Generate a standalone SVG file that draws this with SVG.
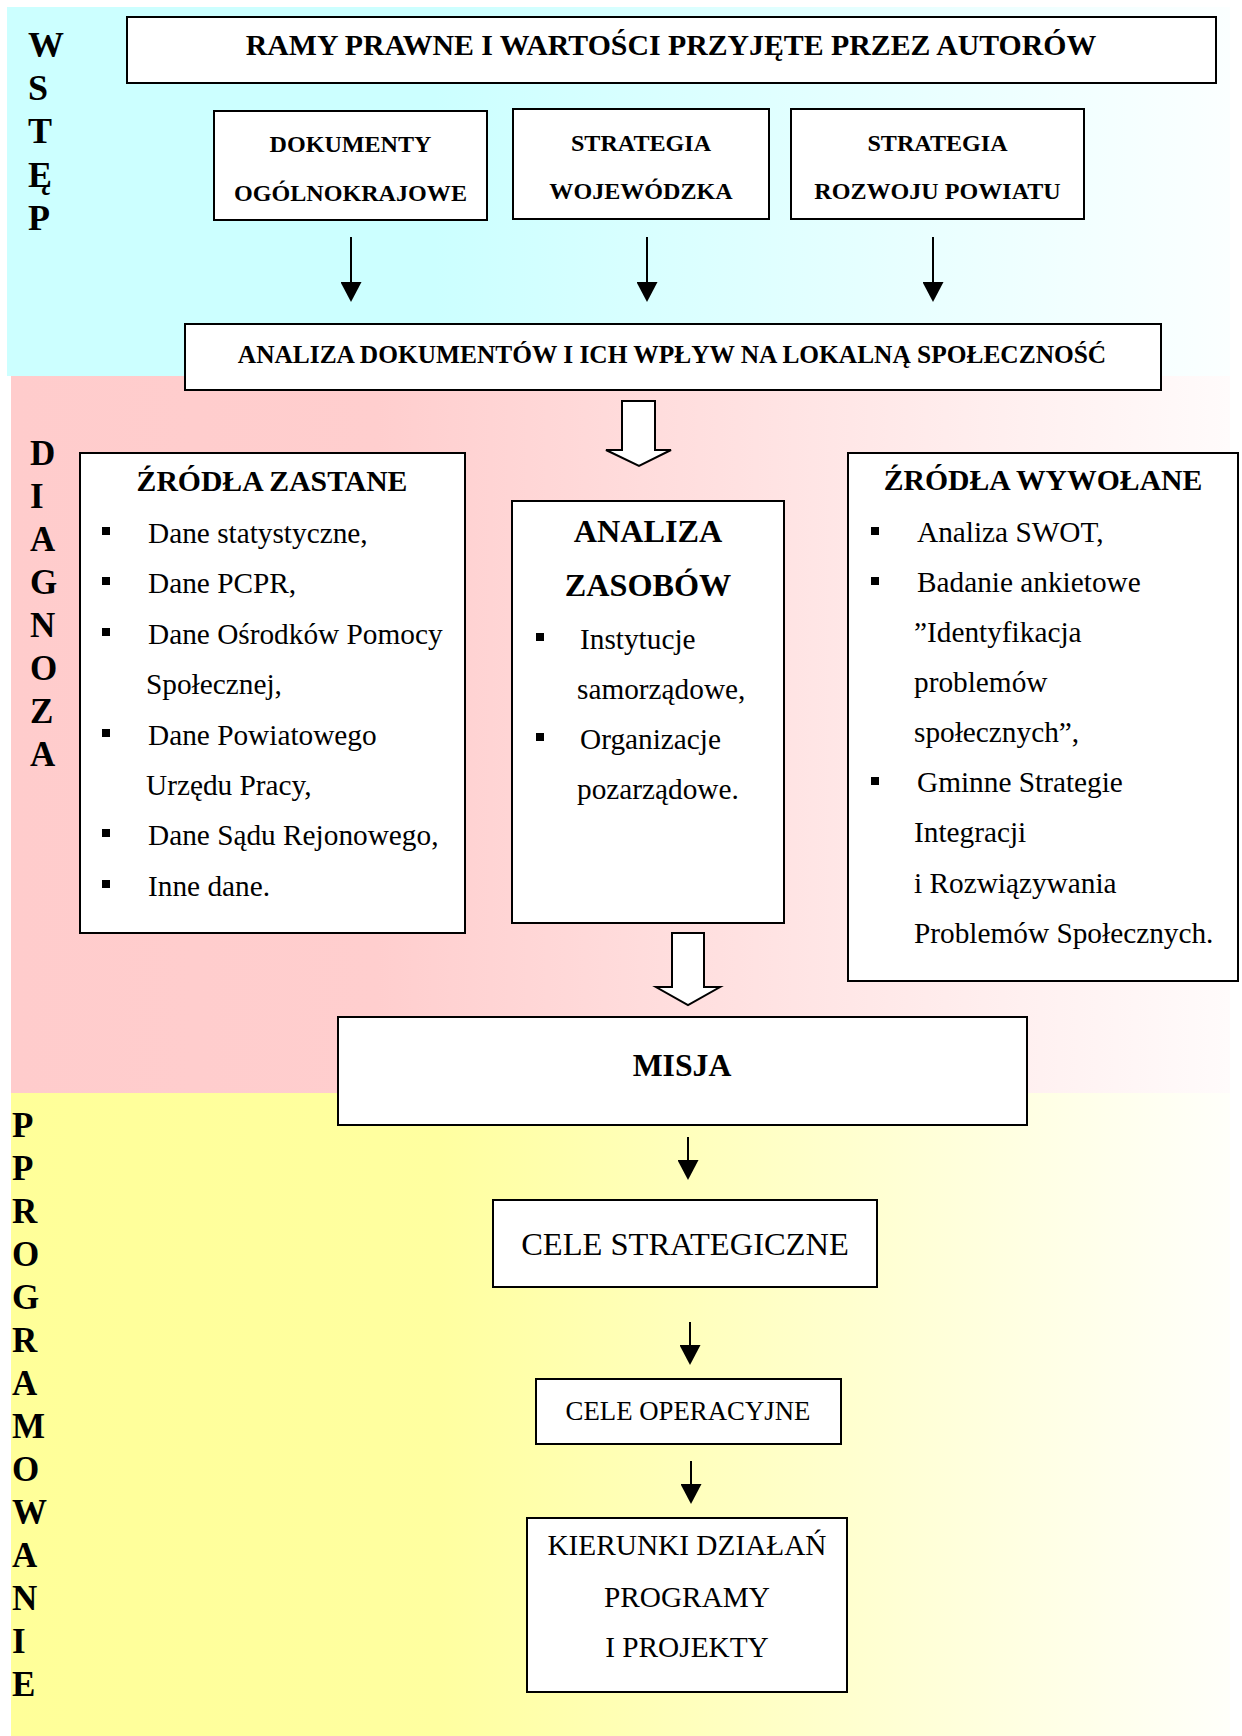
<svg xmlns="http://www.w3.org/2000/svg" width="1242" height="1736" viewBox="0 0 1242 1736">
<style>
.box{fill:#fff;stroke:#000;stroke-width:2}
.t{font-family:"Liberation Serif","Times New Roman",serif;fill:#000}
.b{font-weight:bold}
.c{text-anchor:middle}
.bl{fill:#000}
.arr{stroke:#000;stroke-width:2;fill:none;marker-end:url(#ah)}
.hol{fill:#fff;stroke:#000;stroke-width:2}
.f24{font-size:24.1px}.f25{font-size:25.4px}.f29{font-size:29.3px}.fh{font-size:29.7px}.f32{font-size:32.2px}.fk{font-size:29.3px}
</style>
<defs>
<linearGradient id="gc" x1="0" y1="0" x2="1" y2="0"><stop offset="0" stop-color="#ccffff"/><stop offset="0.35" stop-color="#ccffff"/><stop offset="1" stop-color="#fbffff"/></linearGradient>
<linearGradient id="gp" x1="0" y1="0" x2="1" y2="0"><stop offset="0" stop-color="#ffcccc"/><stop offset="0.3" stop-color="#ffcece"/><stop offset="1" stop-color="#fffbfb"/></linearGradient>
<linearGradient id="gy" x1="0" y1="0" x2="1" y2="0"><stop offset="0" stop-color="#ffff99"/><stop offset="0.35" stop-color="#ffffa0"/><stop offset="1" stop-color="#fffffa"/></linearGradient>
<marker id="ah" markerUnits="userSpaceOnUse" markerWidth="20" markerHeight="21" viewBox="0 0 20 21" refX="1" refY="10.5" orient="auto"><path d="M0,0 L20,10.5 L0,21 Z" fill="#000"/></marker>
</defs>

<g id="bands">
<rect x="7" y="7" width="1223" height="369" fill="url(#gc)"/>
<rect x="11" y="376" width="1219" height="717" fill="url(#gp)"/>
<rect x="11" y="1093" width="1219" height="643" fill="url(#gy)"/>
</g>

<g id="side-labels" class="t b">
<g id="wstep" style="font-size:36px">
<text x="28" y="57">W</text><text x="28" y="100">S</text><text x="28" y="143">T</text><text x="28" y="187">Ę</text><text x="28" y="230">P</text>
</g>
<g id="diagnoza" style="font-size:35px">
<text x="30" y="465">D</text><text x="30" y="508">I</text><text x="30" y="551">A</text><text x="30" y="594">G</text><text x="30" y="637">N</text><text x="30" y="680">O</text><text x="30" y="723">Z</text><text x="30" y="766">A</text>
</g>
<g id="programowanie" style="font-size:35px">
<text x="12" y="1137">P</text><text x="12" y="1180">P</text><text x="12" y="1223">R</text><text x="12" y="1266">O</text><text x="12" y="1309">G</text><text x="12" y="1352">R</text><text x="12" y="1395">A</text><text x="12" y="1438">M</text><text x="12" y="1481">O</text><text x="12" y="1524">W</text><text x="12" y="1567">A</text><text x="12" y="1610">N</text><text x="12" y="1653">I</text><text x="12" y="1696">E</text>
</g>
</g>

<g id="connectors">
<line class="arr" x1="351" y1="237" x2="351" y2="283"/>
<line class="arr" x1="647" y1="237" x2="647" y2="283"/>
<line class="arr" x1="933" y1="237" x2="933" y2="283"/>
<path class="hol" d="M622,401 H655 V450 H671 L639,466 L606,450 H622 Z"/>
<path class="hol" d="M672,933 H704 V987 H720 L688,1005 L656,987 H672 Z"/>
<line class="arr" x1="688" y1="1137" x2="688" y2="1161"/>
<line class="arr" x1="690" y1="1322" x2="690" y2="1346"/>
<line class="arr" x1="691" y1="1461" x2="691" y2="1485"/>
</g>

<g id="ramy">
<rect class="box" x="127" y="17" width="1089" height="66"/>
<text class="t b c" style="font-size:29.8px" x="671" y="55">RAMY PRAWNE I WARTOŚCI PRZYJĘTE PRZEZ AUTORÓW</text>
</g>

<g id="dokumenty">
<rect class="box" x="214" y="111" width="273" height="109"/>
<text class="t b c f24" x="350.5" y="152">DOKUMENTY</text>
<text class="t b c f24" x="350.5" y="201">OGÓLNOKRAJOWE</text>
</g>

<g id="wojewodzka">
<rect class="box" x="513" y="109" width="256" height="110"/>
<text class="t b c f24" x="641" y="151">STRATEGIA</text>
<text class="t b c f24" x="641" y="199">WOJEWÓDZKA</text>
</g>

<g id="powiat">
<rect class="box" x="791" y="109" width="293" height="110"/>
<text class="t b c f24" x="937.5" y="151">STRATEGIA</text>
<text class="t b c f24" x="937.5" y="199">ROZWOJU POWIATU</text>
</g>

<g id="analiza-dok">
<rect class="box" x="185" y="324" width="976" height="66"/>
<text class="t b c f25" x="672" y="363">ANALIZA DOKUMENTÓW I ICH WPŁYW NA LOKALNĄ SPOŁECZNOŚĆ</text>
</g>

<g id="zastane">
<rect class="box" x="80" y="453" width="385" height="480"/>
<text class="t b c fh" x="272" y="491">ŹRÓDŁA ZASTANE</text>
<rect class="bl" x="102" y="527" width="8" height="8"/>
<rect class="bl" x="102" y="577" width="8" height="8"/>
<rect class="bl" x="102" y="628" width="8" height="8"/>
<rect class="bl" x="102" y="729" width="8" height="8"/>
<rect class="bl" x="102" y="829" width="8" height="8"/>
<rect class="bl" x="102" y="880" width="8" height="8"/>
<text class="t f29" x="148" y="543">Dane statystyczne,</text>
<text class="t f29" x="148" y="593">Dane PCPR,</text>
<text class="t f29" x="148" y="644">Dane Ośrodków Pomocy</text>
<text class="t f29" x="146" y="694">Społecznej,</text>
<text class="t f29" x="148" y="745">Dane Powiatowego</text>
<text class="t f29" x="146" y="795">Urzędu Pracy,</text>
<text class="t f29" x="148" y="845">Dane Sądu Rejonowego,</text>
<text class="t f29" x="148" y="896">Inne dane.</text>
</g>

<g id="zasoby">
<rect class="box" x="512" y="501" width="272" height="422"/>
<text class="t b c f32" x="648" y="542">ANALIZA</text>
<text class="t b c f32" x="648" y="596">ZASOBÓW</text>
<rect class="bl" x="536" y="633" width="8" height="8"/>
<rect class="bl" x="536" y="733" width="8" height="8"/>
<text class="t f29" x="580" y="649">Instytucje</text>
<text class="t f29" x="577" y="699">samorządowe,</text>
<text class="t f29" x="580" y="749">Organizacje</text>
<text class="t f29" x="577" y="799">pozarządowe.</text>
</g>

<g id="wywolane">
<rect class="box" x="848" y="453" width="390" height="528"/>
<text class="t b c fh" x="1043" y="490">ŹRÓDŁA WYWOŁANE</text>
<rect class="bl" x="871" y="527" width="8" height="8"/>
<rect class="bl" x="871" y="577" width="8" height="8"/>
<rect class="bl" x="871" y="777" width="8" height="8"/>
<text class="t f29" x="917" y="542">Analiza SWOT,</text>
<text class="t f29" x="917" y="592">Badanie ankietowe</text>
<text class="t f29" x="914" y="642">”Identyfikacja</text>
<text class="t f29" x="914" y="692">problemów</text>
<text class="t f29" x="914" y="742">społecznych”,</text>
<text class="t f29" x="917" y="792">Gminne Strategie</text>
<text class="t f29" x="914" y="842">Integracji</text>
<text class="t f29" x="914" y="893">i Rozwiązywania</text>
<text class="t f29" x="914" y="943">Problemów Społecznych.</text>
</g>

<g id="misja">
<rect class="box" x="338" y="1017" width="689" height="108"/>
<text class="t b c" style="font-size:31.7px" x="682" y="1076">MISJA</text>
</g>

<g id="cele-strategiczne">
<rect class="box" x="493" y="1200" width="384" height="87"/>
<text class="t c" style="font-size:32.5px" x="685" y="1255">CELE STRATEGICZNE</text>
</g>

<g id="cele-operacyjne">
<rect class="box" x="536" y="1379" width="305" height="65"/>
<text class="t c" style="font-size:26.8px" x="688" y="1420">CELE OPERACYJNE</text>
</g>

<g id="kierunki">
<rect class="box" x="527" y="1518" width="320" height="174"/>
<text class="t c fk" x="687" y="1555">KIERUNKI DZIAŁAŃ</text>
<text class="t c fk" x="687" y="1607">PROGRAMY</text>
<text class="t c fk" x="687" y="1657">I PROJEKTY</text>
</g>
</svg>
